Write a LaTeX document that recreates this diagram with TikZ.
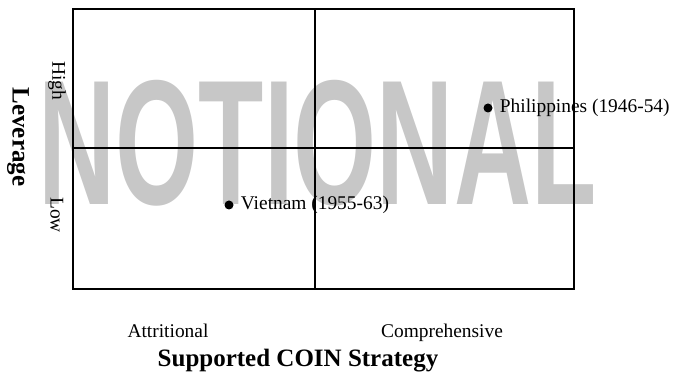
\documentclass[tikz,border=0pt]{standalone}
\usepackage{fontspec}
\setmainfont{Liberation Serif}
\newfontfamily\markfont{Liberation Sans}
\begin{document}
\begin{tikzpicture}[
       x=1pt,y=-1pt,
       pays/.style={
         circle,
         fill=black,
         inner sep=0pt,
         minimum size=9pt
       },
       as/.style={
         font=\fontsize{19.4}{22}\selectfont,
         inner sep=0pt
       },
       naam/.style={
         as,
         xshift=7pt
       },
       titel/.style={
         font=\fontsize{25}{28}\selectfont\bfseries,
         inner sep=0pt
       }
     ]
       \useasboundingbox (0,0) rectangle (673,374);

       % watermark
       \node (mark) at (317.5,205) [anchor=base,inner sep=0pt,text=black!22,
         font=\fontsize{178}{180}\selectfont\markfont\bfseries]
         {\scalebox{0.6}[1]{NOTIONAL}};

       % quadrants
       \draw[line width=1.3pt] (73,9) rectangle (574,289);
       \draw[line width=1.3pt] (315,9) -- (315,289);
       \draw[line width=1.3pt] (73,148) -- (574,148);

       \node (v) at (229,205) [pays,label={[naam]right:Vietnam (1955-63)}]{};
       \node (p) at (488,108) [pays,label={[naam]right:Philippines (1946-54)}]{};

       \node (hi) at (57,81) [as,rotate=-90]{High};
       \node (lo) at (57,215) [as,rotate=-90]{Low};
       \node (lev) at (18,137) [titel,rotate=-90]{Leverage};

       \node (att) at (168,338) [as,anchor=base]{Attritional};
       \node (comp) at (442,338) [as,anchor=base]{Comprehensive};
       \node (coin) at (298,367) [titel,anchor=base]{Supported COIN Strategy};

\end{tikzpicture}
\end{document}
